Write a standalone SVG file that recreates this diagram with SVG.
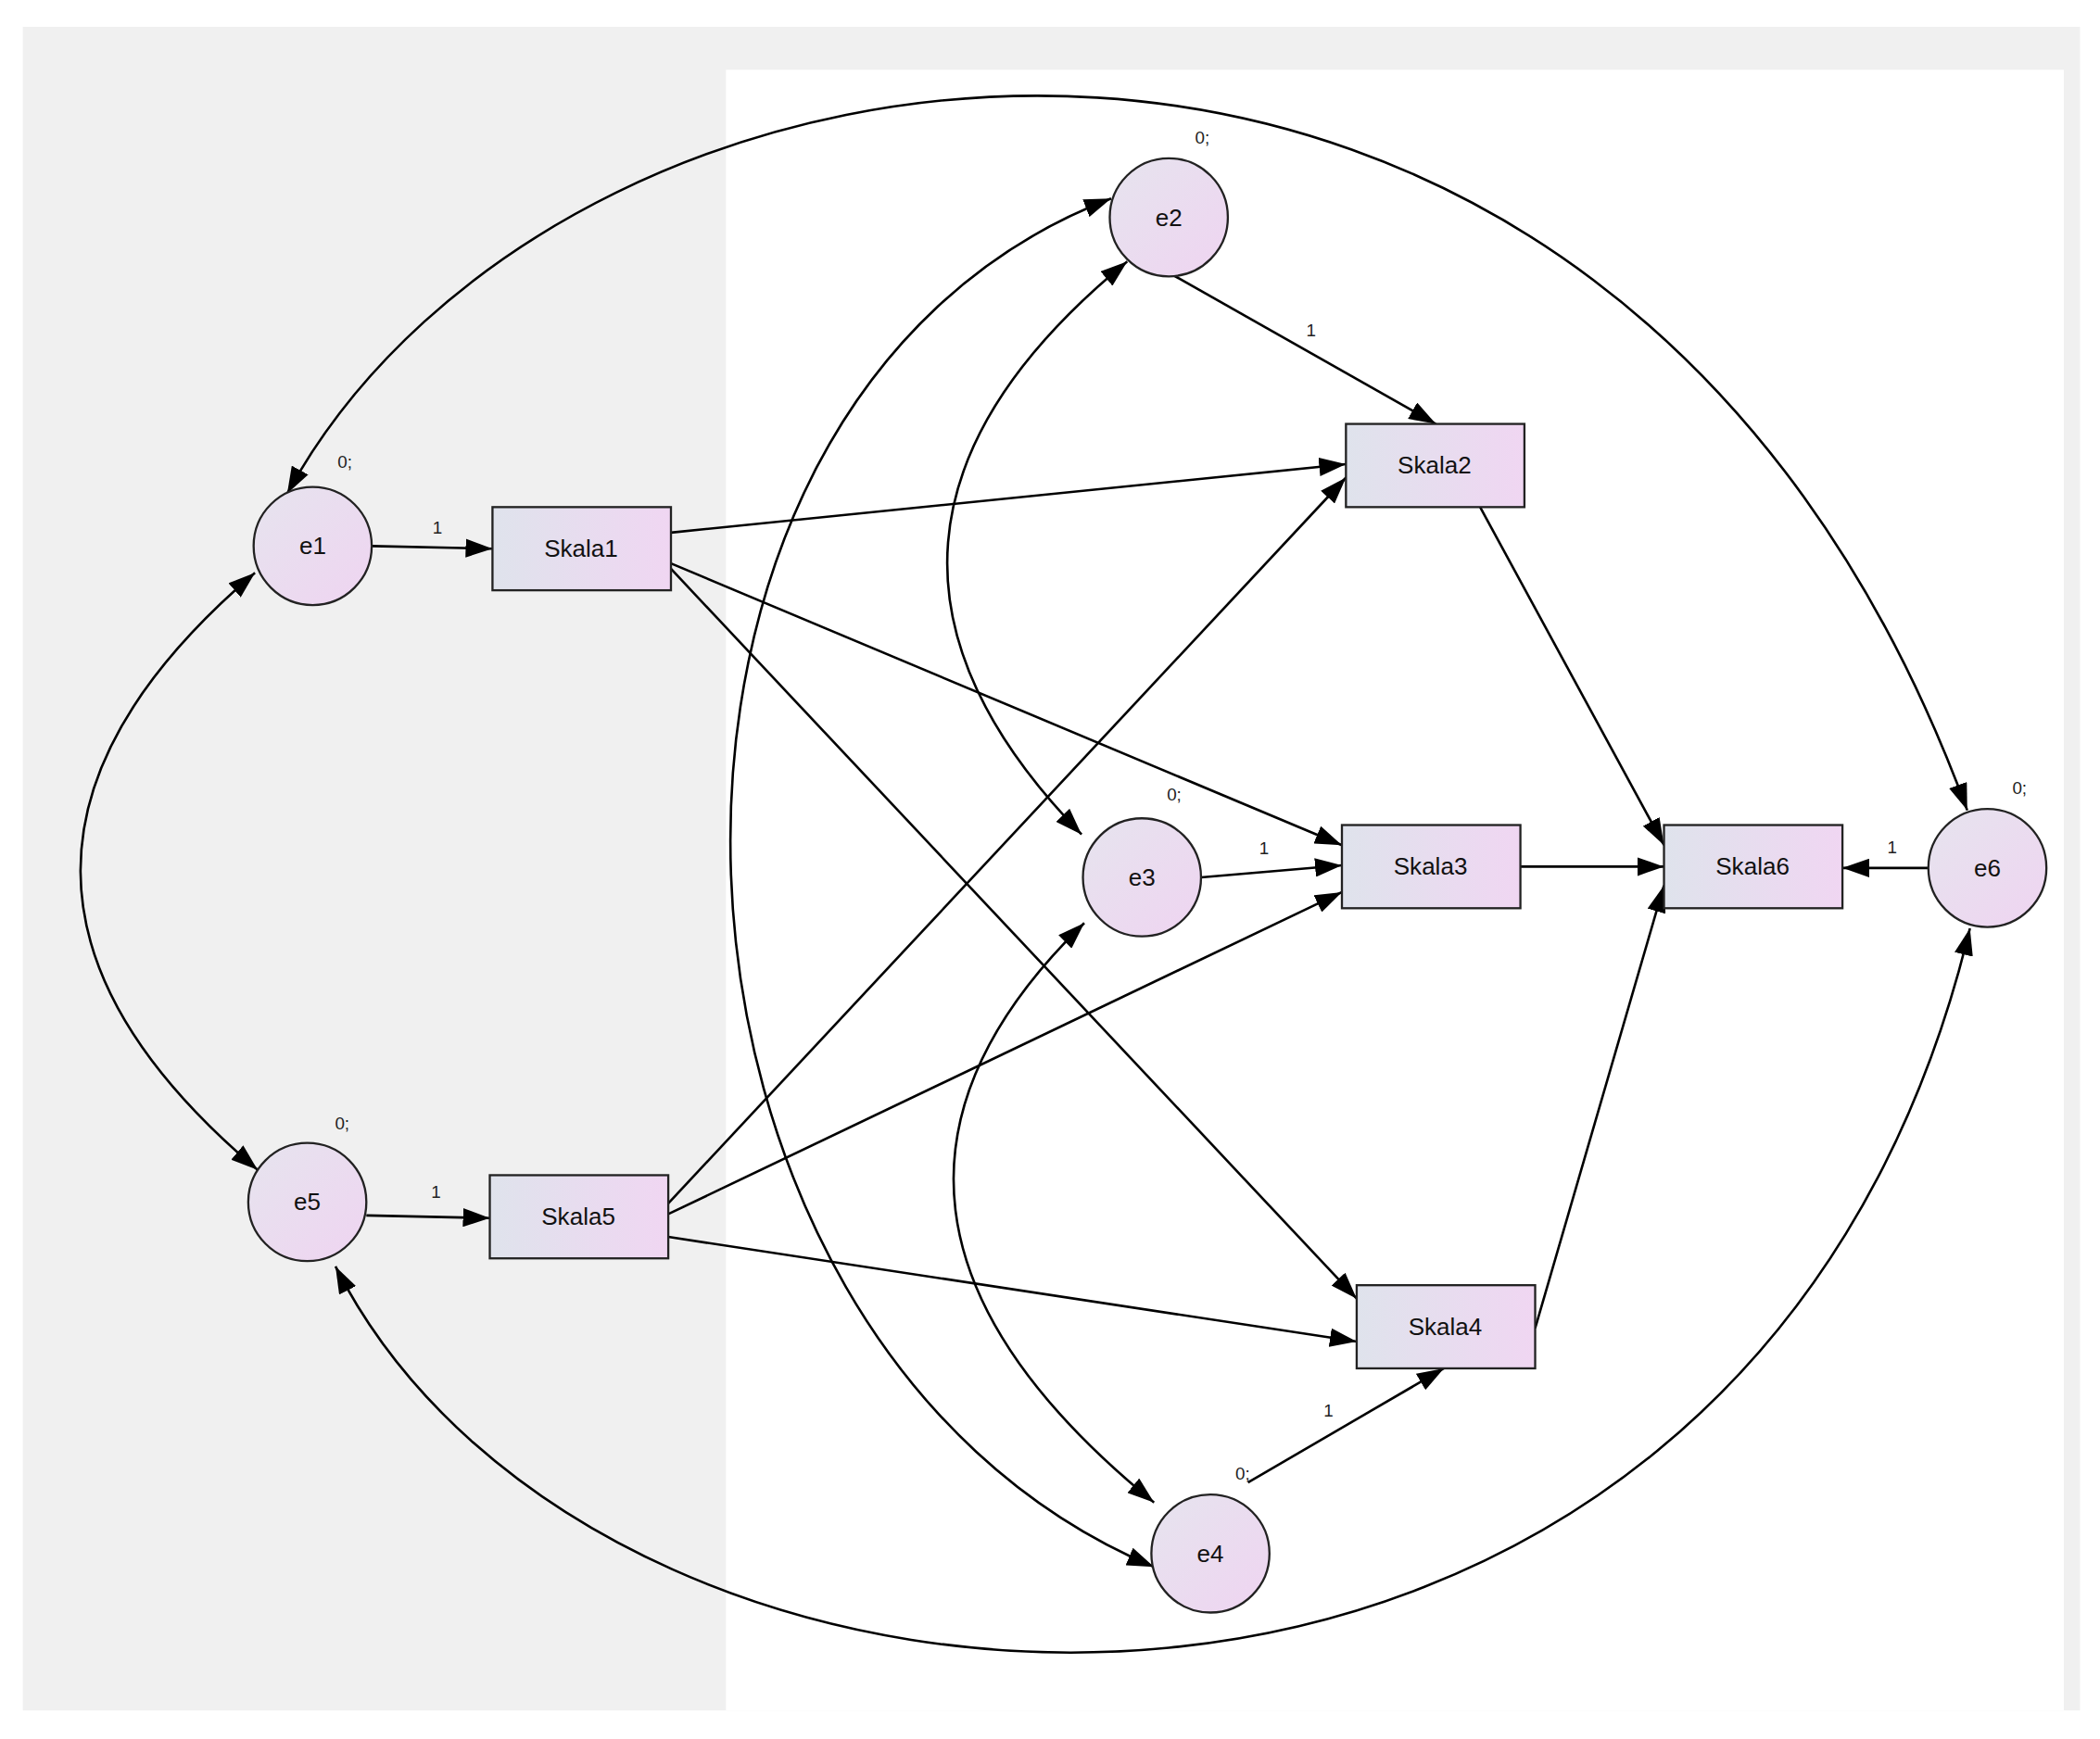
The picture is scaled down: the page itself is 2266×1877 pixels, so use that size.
<svg xmlns="http://www.w3.org/2000/svg" width="2266" height="1877" viewBox="0 0 2266 1877">
<defs>
<linearGradient id="gr" x1="0" y1="0" x2="1" y2="0"><stop offset="0" stop-color="#dfe3ec"/><stop offset="1" stop-color="#f0d6f2"/></linearGradient>
<linearGradient id="gc" x1="0" y1="0" x2="1" y2="1"><stop offset="0" stop-color="#e6e4ee"/><stop offset="1" stop-color="#efd4f1"/></linearGradient>
<marker id="a" viewBox="0 0 20 14" refX="20" refY="7" markerWidth="20" markerHeight="14" markerUnits="userSpaceOnUse" orient="auto-start-reverse"><path d="M0,0 L20,7 L0,14 z" fill="#000"/></marker>
</defs>
<style>
.n{fill:url(#gr);stroke:#222;stroke-width:1.6}
.c{fill:url(#gc);stroke:#222;stroke-width:1.6}
.t{font-family:"Liberation Sans",Arial,sans-serif;font-size:18px;fill:#111;text-anchor:middle;dominant-baseline:central}
.s{font-family:"Liberation Sans",Arial,sans-serif;font-size:13px;fill:#222;text-anchor:middle}
.l{fill:none;stroke:#000;stroke-width:1.8;marker-end:url(#a)}
.d{fill:none;stroke:#000;stroke-width:1.8;marker-end:url(#a);marker-start:url(#a)}
</style>
<g transform="scale(1.448)">
<rect x="17" y="20" width="1533" height="1255" fill="#f0f0f0"/>
<rect x="541" y="52" width="997" height="1223" fill="#fff"/>
<g id="connectors">
<path class="l" d="M277,407 L367,409"/>
<path class="l" d="M273,906 L365,908"/>
<path class="l" d="M874,205 L1070,316"/>
<path class="l" d="M895,654 L1000,645"/>
<path class="l" d="M1437,647 L1373,647"/>
<path class="l" d="M930,1105 L1076,1020"/>
<path class="l" d="M500,397 L1003,346"/>
<path class="l" d="M500,420 L1000,630"/>
<path class="l" d="M500,424 L1011,968"/>
<path class="l" d="M498,897 L1003,356"/>
<path class="l" d="M498,905 L1000,665"/>
<path class="l" d="M498,922 L1011,1000"/>
<path class="l" d="M1103,378 L1240,630"/>
<path class="l" d="M1133,646 L1240,646"/>
<path class="l" d="M1144,990 L1240,660"/>
<path class="d" d="M190,427 Q-71,650 192,872"/>
<path class="d" d="M214,368 C420,-10 1200,-120 1466,604"/>
<path class="d" d="M250,944 C450,1340 1300,1390 1468,692"/>
<path class="d" d="M828,148 C430,300 460,1000 860,1168"/>
<path class="d" d="M840,195 Q590,400 806,622"/>
<path class="d" d="M808,688 Q590,900 860,1120"/>
</g>
<g id="e1"><circle class="c" cx="233" cy="407" r="44"/><text class="t" x="233" y="407">e1</text><text class="s" x="257" y="349">0;</text></g>
<g id="e5"><circle class="c" cx="229" cy="896" r="44"/><text class="t" x="229" y="896">e5</text><text class="s" x="255" y="842">0;</text></g>
<g id="e2"><circle class="c" cx="871" cy="162" r="44"/><text class="t" x="871" y="162">e2</text><text class="s" x="896" y="107">0;</text></g>
<g id="e3"><circle class="c" cx="851" cy="654" r="44"/><text class="t" x="851" y="654">e3</text><text class="s" x="875" y="597">0;</text></g>
<g id="e4"><circle class="c" cx="902" cy="1158" r="44"/><text class="t" x="902" y="1158">e4</text><text class="s" x="926" y="1103">0;</text></g>
<g id="e6"><circle class="c" cx="1481" cy="647" r="44"/><text class="t" x="1481" y="647">e6</text><text class="s" x="1505" y="592">0;</text></g>
<g id="Skala1"><rect class="n" x="367" y="378" width="133" height="62"/><text class="t" x="433" y="409">Skala1</text></g>
<g id="Skala5"><rect class="n" x="365" y="876" width="133" height="62"/><text class="t" x="431" y="907">Skala5</text></g>
<g id="Skala2"><rect class="n" x="1003" y="316" width="133" height="62"/><text class="t" x="1069" y="347">Skala2</text></g>
<g id="Skala3"><rect class="n" x="1000" y="615" width="133" height="62"/><text class="t" x="1066" y="646">Skala3</text></g>
<g id="Skala6"><rect class="n" x="1240" y="615" width="133" height="62"/><text class="t" x="1306" y="646">Skala6</text></g>
<g id="Skala4"><rect class="n" x="1011" y="958" width="133" height="62"/><text class="t" x="1077" y="989">Skala4</text></g>
<g id="labels">
<text class="s" x="326" y="398">1</text>
<text class="s" x="325" y="893">1</text>
<text class="s" x="977" y="251">1</text>
<text class="s" x="942" y="637">1</text>
<text class="s" x="1410" y="636">1</text>
<text class="s" x="990" y="1056">1</text>
</g>
</g>
</svg>
